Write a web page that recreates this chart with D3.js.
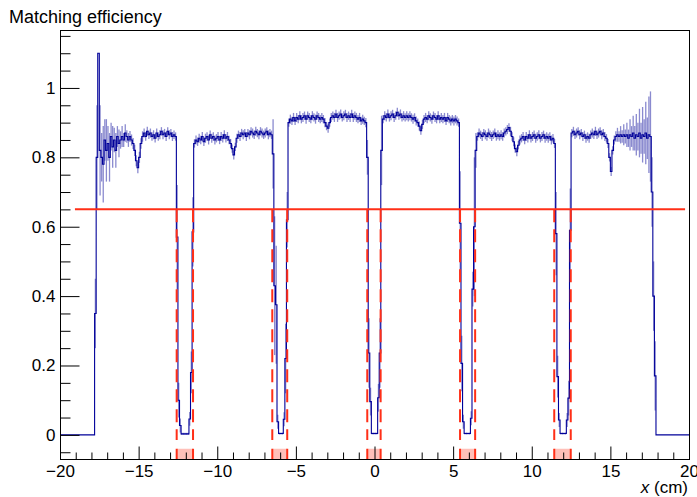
<!DOCTYPE html>
<html>
<head>
<meta charset="utf-8">
<script src="https://cdn.jsdelivr.net/npm/d3@7"></script>
<style>
  html, body { margin: 0; padding: 0; background: #fff; }
  svg { display: block; }
  text { font-family: "Liberation Sans", Arial, Helvetica, sans-serif; fill: #000; }
</style>
</head>
<body>
<svg id="chart" width="697" height="497"></svg>
<script>
// ---------------- data ----------------
const chartTitle = "Matching efficiency";
const xAxisTitleItalic = "x";
const xAxisTitleRest = " (cm)";
const xTickValues = [-20, -15, -10, -5, 0, 5, 10, 15, 20];
const xTickLabels = ["\u221220", "\u221215", "\u221210", "\u22125", "0", "5", "10", "15", "20"];
const yTickValues = [0, 0.2, 0.4, 0.6, 0.8, 1.0];
const yTickLabels = ["0", "0.2", "0.4", "0.6", "0.8", "1"];
const xDomain = [-20, 20];
const yDomain = [-0.0695, 1.167];

// histogram binning: 400 bins of 0.1 cm from -20 cm
const binStart = -20;
const binWidth = 0.1;

const efficiency = [
  // -20.0 .. -17.9
  0,0,0,0,0,0,0,0,0,0,0,0,0,0,0,0,0,0,0,0,0,0,
  // -17.8 .. -17.4
  0.35,0.80,1.10,0.82,0.80,
  // -17.3 .. -15.5
  0.78,0.85,0.82,0.84,0.80,0.86,0.83,0.85,0.82,0.86,0.84,0.85,0.86,0.85,0.87,0.86,0.85,0.86,0.85,
  // -15.4 .. -14.8
  0.84,0.82,0.79,0.77,0.80,0.84,0.86,
  // -14.7 .. -12.7
  0.87,0.86,0.875,0.865,0.87,0.86,0.865,0.855,0.87,0.86,0.865,0.875,0.865,0.87,0.86,0.875,0.865,0.87,0.86,0.865,0.86,
  // -12.6 .. -11.6
  0.57,0.10,0.027,0.003,0.003,0.003,0.003,0.003,0.046,0.18,0.585,
  // -11.5 .. -6.7
  0.84,0.85,0.845,0.855,0.85,0.86,0.845,0.855,0.86,0.85,
  0.865,0.855,0.86,0.85,0.855,0.86,0.85,0.86,0.855,0.865,
  0.855,0.86,0.85,0.84,0.825,0.807,0.83,0.855,0.865,0.86,
  0.87,0.865,0.87,0.86,0.87,0.865,0.875,0.87,0.865,0.875,
  0.87,0.865,0.875,0.87,0.865,0.87,0.875,0.865,0.87,
  // -6.6 .. -5.6
  0.865,0.81,0.43,0.375,0.038,0.004,0.004,0.004,0.045,0.22,0.62,
  // -5.5 .. -0.6
  0.90,0.91,0.905,0.915,0.905,0.915,0.91,0.92,0.91,0.915,
  0.92,0.91,0.92,0.915,0.91,0.92,0.915,0.91,0.92,0.915,
  0.91,0.915,0.91,0.90,0.89,0.884,0.90,0.915,0.92,0.915,
  0.925,0.915,0.92,0.925,0.915,0.92,0.925,0.915,0.92,0.915,
  0.925,0.915,0.92,0.915,0.91,0.915,0.905,0.91,0.905,0.90,
  // -0.5 .. 0.4
  0.80,0.236,0.096,0.004,0.004,0.004,0.004,0.107,0.236,0.82,
  // 0.5 .. 5.3
  0.91,0.92,0.915,0.925,0.915,0.92,0.925,0.915,0.92,0.93,
  0.92,0.925,0.915,0.92,0.915,0.92,0.915,0.92,0.915,0.91,
  0.915,0.905,0.90,0.89,0.877,0.895,0.91,0.915,0.91,0.92,
  0.915,0.91,0.92,0.915,0.91,0.92,0.91,0.915,0.91,0.915,
  0.905,0.915,0.91,0.905,0.91,0.905,0.91,0.905,0.90,
  // 5.4 .. 6.4
  0.61,0.206,0.038,0.004,0.004,0.004,0.004,0.048,0.42,0.60,0.82,
  // 6.5 .. 11.4
  0.86,0.87,0.865,0.86,0.87,0.865,0.86,0.87,0.865,0.86,
  0.865,0.87,0.86,0.865,0.86,0.865,0.86,0.87,0.875,0.88,
  0.886,0.875,0.86,0.845,0.825,0.816,0.835,0.85,0.855,0.86,
  0.85,0.86,0.855,0.865,0.855,0.86,0.865,0.855,0.86,0.865,
  0.855,0.86,0.865,0.855,0.86,0.855,0.86,0.85,0.855,0.84,
  // 11.5 .. 12.4
  0.58,0.168,0.043,0.004,0.004,0.004,0.004,0.043,0.106,0.59,
  // 12.5 .. 17.5
  0.87,0.875,0.865,0.87,0.875,0.865,0.87,0.86,0.865,0.855,
  0.86,0.855,0.865,0.87,0.865,0.875,0.865,0.87,0.875,0.865,
  0.87,0.86,0.855,0.84,0.80,0.759,0.82,0.85,0.86,0.865,
  0.86,0.865,0.86,0.865,0.86,0.865,0.855,0.865,0.86,0.87,
  0.855,0.865,0.86,0.87,0.855,0.865,0.86,0.87,0.855,0.865,
  0.86,
  // 17.6 .. 17.8
  0.70,0.40,0.17,
  // 17.9 .. 19.9
  0,0,0,0,0,0,0,0,0,0,0,0,0,0,0,0,0,0,0,0,0
];

const efficiencyError = [
  0,0,0,0,0,0,0,0,0,0,0,0,0,0,0,0,0,0,0,0,0,0,
  0.10,0.15,0,0.13,0.07,
  0.11,0.06,0.09,0.05,0.07,0.04,0.06,0.035,0.05,0.03,0.04,0.025,0.03,0.02,0.025,0.018,0.02,0.016,0.016,
  0.016,0.016,0.016,0.016,0.016,0.015,0.015,
  0.013,0.012,0.013,0.012,0.013,0.012,0.013,0.012,0.013,0.012,
  0.013,0.012,0.013,0.012,0.013,0.012,0.013,0.012,0.013,0.012,0.012,
  0.15,0.05,0.02,0.003,0.003,0.003,0.003,0.003,0.02,0.06,0.10,
  0.012,0.013,0.012,0.013,0.012,0.013,0.012,0.013,0.012,0.013,
  0.012,0.013,0.012,0.013,0.012,0.013,0.012,0.013,0.012,0.013,
  0.012,0.013,0.012,0.013,0.012,0.013,0.012,0.013,0.012,0.013,
  0.012,0.013,0.012,0.013,0.012,0.013,0.012,0.013,0.012,0.013,
  0.012,0.013,0.012,0.013,0.012,0.013,0.012,0.013,0.012,
  0.012,0.10,0.20,0.17,0.02,0.003,0.003,0.003,0.02,0.10,0.08,
  0.012,0.013,0.012,0.013,0.012,0.013,0.012,0.013,0.012,0.013,
  0.012,0.013,0.012,0.013,0.012,0.013,0.012,0.013,0.012,0.013,
  0.012,0.013,0.012,0.013,0.012,0.013,0.012,0.013,0.012,0.013,
  0.012,0.013,0.012,0.013,0.012,0.013,0.012,0.013,0.012,0.013,
  0.012,0.013,0.012,0.013,0.012,0.013,0.012,0.013,0.012,0.013,
  0.05,0.10,0.04,0.003,0.003,0.003,0.003,0.04,0.10,0.10,
  0.012,0.013,0.012,0.013,0.012,0.013,0.012,0.013,0.012,0.013,
  0.012,0.013,0.012,0.013,0.012,0.013,0.012,0.013,0.012,0.013,
  0.012,0.013,0.012,0.013,0.012,0.013,0.012,0.013,0.012,0.013,
  0.012,0.013,0.012,0.013,0.012,0.013,0.012,0.013,0.012,0.013,
  0.012,0.013,0.012,0.013,0.012,0.013,0.012,0.013,0.012,
  0.15,0.08,0.02,0.003,0.003,0.003,0.003,0.02,0.05,0.20,0.05,
  0.012,0.013,0.012,0.013,0.012,0.013,0.012,0.013,0.012,0.013,
  0.012,0.013,0.012,0.013,0.012,0.013,0.012,0.013,0.012,0.013,
  0.012,0.013,0.012,0.013,0.012,0.013,0.012,0.013,0.012,0.013,
  0.012,0.013,0.012,0.013,0.012,0.013,0.012,0.013,0.012,0.013,
  0.012,0.013,0.012,0.013,0.012,0.013,0.012,0.013,0.012,0.013,
  0.12,0.06,0.02,0.003,0.003,0.003,0.003,0.02,0.05,0.12,
  0.012,0.013,0.012,0.013,0.012,0.013,0.012,0.013,0.012,0.013,
  0.012,0.013,0.012,0.013,0.012,0.013,0.012,0.013,0.012,0.013,
  0.012,0.013,0.012,0.013,0.012,0.013,0.012,0.013,
  0.015,0.02,0.015,0.025,0.018,0.03,0.02,0.035,0.025,0.045,
  0.03,0.05,0.035,0.06,0.04,0.07,0.045,0.08,0.05,0.09,
  0.06,0.11,0.13,
  0.10,0.10,0.10,
  0,0,0,0,0,0,0,0,0,0,0,0,0,0,0,0,0,0,0,0,0
];

// threshold line and dead-zone (gap) edges
const thresholdLevel = 0.65;
const thresholdRange = [-19.05, 19.75];
const gapLow  = [-12.58, -6.50, -0.46, 5.44, 11.43];
const gapHigh = [-11.54, -5.55, 0.39, 6.40, 12.48];
const dashBottom = -0.015;
const bandTop = -0.04;

if (efficiency.length !== 400 || efficiencyError.length !== 400) {
  console.error("length mismatch", efficiency.length, efficiencyError.length);
}

// ---------------- drawing ----------------
const svg = d3.select("#chart");
const plotLeft = 60, plotRight = 689, plotTop = 30, plotBottom = 459;
const x = d3.scaleLinear().domain(xDomain).range([plotLeft, plotRight]);
const y = d3.scaleLinear().domain(yDomain).range([plotBottom, plotTop]);

const blue = "#000099";
const red = "#ff2f17";

const bins = efficiency.map((v, i) => ({
  lo: binStart + binWidth * i,
  hi: binStart + binWidth * (i + 1),
  v: v,
  e: efficiencyError[i] || 0
}));

// error bars
svg.append("g").selectAll("line")
  .data(bins.filter(b => b.e > 0))
  .join("line")
  .attr("x1", b => x((b.lo + b.hi) / 2))
  .attr("x2", b => x((b.lo + b.hi) / 2))
  .attr("y1", b => y(Math.max(b.v - b.e, yDomain[0])))
  .attr("y2", b => y(b.v + b.e))
  .attr("stroke", "#2a2aa8")
  .attr("stroke-opacity", 0.55)
  .attr("stroke-width", 1.3);

// step histogram
let pathD = "";
bins.forEach((b, i) => {
  const yy = y(b.v);
  if (i === 0) pathD += `M${x(b.lo)},${yy}`;
  else pathD += `L${x(b.lo)},${yy}`;
  pathD += `L${x(b.hi)},${yy}`;
});
svg.append("path")
  .attr("d", pathD)
  .attr("fill", "none")
  .attr("stroke", blue)
  .attr("stroke-width", 1.1);

// shaded gap bands at bottom + dashed gap edges
gapLow.forEach((g0, k) => {
  const g1 = gapHigh[k];
  svg.append("rect")
    .attr("x", x(g0)).attr("y", y(bandTop))
    .attr("width", x(g1) - x(g0)).attr("height", y(yDomain[0]) - y(bandTop))
    .attr("fill", red).attr("fill-opacity", 0.3);
  [g0, g1].forEach(g => {
    svg.append("line")
      .attr("x1", x(g)).attr("x2", x(g))
      .attr("y1", y(bandTop)).attr("y2", y(yDomain[0]))
      .attr("stroke", red).attr("stroke-width", 2);
    svg.append("line")
      .attr("x1", x(g)).attr("x2", x(g))
      .attr("y1", y(thresholdLevel)).attr("y2", y(dashBottom))
      .attr("stroke", red).attr("stroke-width", 2)
      .attr("stroke-dasharray", "13,7");
  });
});

// threshold line
svg.append("line")
  .attr("x1", x(thresholdRange[0])).attr("x2", x(thresholdRange[1]))
  .attr("y1", y(thresholdLevel)).attr("y2", y(thresholdLevel))
  .attr("stroke", red).attr("stroke-width", 2);

// frame
svg.append("rect")
  .attr("x", plotLeft + 0.5).attr("y", plotTop + 0.5)
  .attr("width", plotRight - plotLeft).attr("height", plotBottom - plotTop)
  .attr("fill", "none").attr("stroke", "#000").attr("stroke-width", 1);

// y axis
const yMinor = d3.range(-0.05, 1.1501, 0.05).map(v => Math.round(v * 100) / 100)
  .filter(v => !yTickValues.some(t => Math.abs(t - v) < 1e-6));
const gy = svg.append("g").attr("transform", `translate(${plotLeft + 0.5},0)`);
gy.call(d3.axisLeft(y).tickValues(yTickValues).tickSize(-19).tickPadding(5)
  .tickFormat((d, i) => yTickLabels[i]));
gy.append("g").call(d3.axisLeft(y).tickValues(yMinor).tickSize(-10).tickFormat(""));
gy.selectAll(".domain").remove();
gy.selectAll("line").attr("stroke", "#000");
gy.selectAll("text").style("font-size", "17px").style("font-family", "Liberation Sans, Arial, sans-serif");

// x axis
const xMinor = d3.range(-20, 21, 1).filter(v => v % 5 !== 0);
const gx = svg.append("g").attr("transform", `translate(0,${plotBottom + 0.5})`);
gx.call(d3.axisBottom(x).tickValues(xTickValues).tickSize(-13).tickPadding(5)
  .tickFormat((d, i) => xTickLabels[i]));
gx.append("g").call(d3.axisBottom(x).tickValues(xMinor).tickSize(-7).tickFormat(""));
gx.selectAll(".domain").remove();
gx.selectAll("line").attr("stroke", "#000");
gx.selectAll("text").style("font-size", "17px").style("font-family", "Liberation Sans, Arial, sans-serif");

// titles
svg.append("text")
  .attr("x", 9).attr("y", 23)
  .style("font-size", "18px")
  .text(chartTitle);

const xt = svg.append("text")
  .attr("x", 688).attr("y", 493)
  .attr("text-anchor", "end")
  .style("font-size", "17px");
xt.append("tspan").style("font-style", "italic").text(xAxisTitleItalic);
xt.append("tspan").text(xAxisTitleRest);
</script>
</body>
</html>
